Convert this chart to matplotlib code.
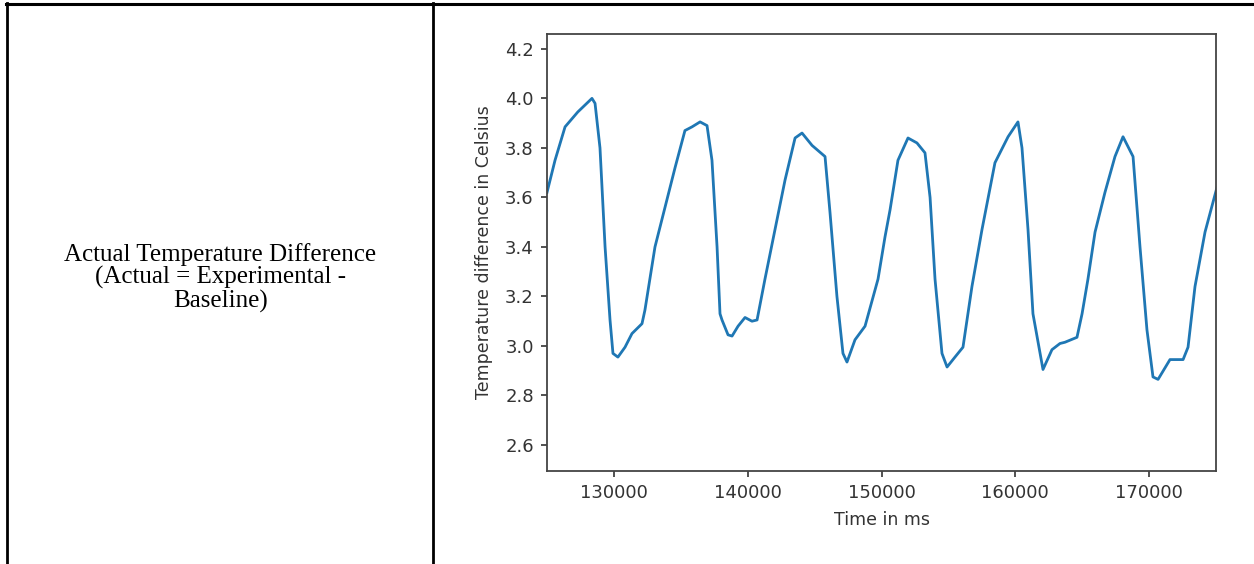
import numpy as np
import matplotlib
matplotlib.use("Agg")
import matplotlib.pyplot as plt
from matplotlib.lines import Line2D

# Values (time in ms, temperature difference in Celsius)
time_ms = [125000, 125600, 126350, 127300, 128360, 128590, 128960, 129340, 129710,
           129930, 130300, 130830, 131350, 132100, 132320, 133070, 133820, 134570,
           135310, 135840, 136440, 136960, 137330, 137710, 137930, 138080, 138530,
           138830, 139280, 139800, 140320, 140700, 141290, 142040, 142790, 143540,
           144060, 144810, 145780, 146150, 146670, 147120, 147420, 148020, 148770,
           149740, 150260, 150640, 151230, 151980, 152650, 153250, 153630, 154000,
           154520, 154900, 155490, 156090, 156760, 157510, 158480, 159460, 160200,
           160500, 160950, 161320, 162070, 162740, 163340, 163710, 164610, 164990,
           165430, 165960, 166700, 167450, 168050, 168800, 169320, 169840, 170290,
           170670, 171560, 172540, 172910, 173430, 174180, 175070]
temp_diff = [3.62, 3.75, 3.885, 3.945, 4.00, 3.98, 3.80, 3.40, 3.105,
             2.97, 2.955, 2.995, 3.05, 3.09, 3.145, 3.40, 3.56, 3.72,
             3.87, 3.885, 3.905, 3.89, 3.75, 3.40, 3.13, 3.105, 3.045,
             3.04, 3.08, 3.115, 3.10, 3.105, 3.27, 3.47, 3.67, 3.84,
             3.86, 3.81, 3.765, 3.54, 3.20, 2.97, 2.935, 3.025, 3.08,
             3.27, 3.44, 3.55, 3.75, 3.84, 3.82, 3.78, 3.60, 3.27,
             2.97, 2.915, 2.955, 2.995, 3.24, 3.47, 3.74, 3.845, 3.905,
             3.80, 3.47, 3.13, 2.905, 2.985, 3.01, 3.015, 3.035, 3.13,
             3.27, 3.46, 3.62, 3.765, 3.845, 3.765, 3.40, 3.065, 2.875,
             2.865, 2.945, 2.945, 2.995, 3.24, 3.46, 3.64]

y_ticks = [2.6, 2.8, 3.0, 3.2, 3.4, 3.6, 3.8, 4.0, 4.2]
x_ticks = [130000, 140000, 150000, 160000, 170000]

W, H = 1254, 564
fig = plt.figure(figsize=(W / 100, H / 100), dpi=100)

# table cell borders
fig.add_artist(Line2D([6 / W, 1], [1 - 4 / H, 1 - 4 / H], color='black', lw=2.2, transform=fig.transFigure))
fig.add_artist(Line2D([7 / W, 7 / W], [0, 1 - 3 / H], color='black', lw=2.0, transform=fig.transFigure))
fig.add_artist(Line2D([433 / W, 433 / W], [0, 1 - 3 / H], color='black', lw=2.0, transform=fig.transFigure))

# left cell text
fig.text(220.5 / W, 1 - 278 / H,
         "Actual Temperature Difference\n(Actual = Experimental -\nBaseline)",
         ha='center', va='center', family='Liberation Serif', fontsize=18,
         linespacing=1.02, color='black')

# chart
ax = fig.add_axes([547 / W, 1 - 471 / H, (1216 - 547) / W, (471 - 34) / H])
ax.plot(time_ms, temp_diff, color='#1f77b4', lw=2)
ax.set_xlim(125000, 175000)
ax.set_ylim(2.495, 4.26)
ax.set_xticks(x_ticks)
ax.set_yticks(y_ticks)
ax.set_yticklabels(['%.1f' % v for v in y_ticks])
ax.tick_params(labelsize=13, colors='#333333', length=4.5, width=1.2, pad=5)
for s in ax.spines.values():
    s.set_color('#444444')
    s.set_linewidth(1.3)
ax.set_xlabel('Time in ms', fontsize=12.5, color='#333333', labelpad=6)
ax.set_ylabel('Temperature difference in Celsius', fontsize=12.5, color='#333333', labelpad=9)

fig.savefig('out.png', dpi=100)
